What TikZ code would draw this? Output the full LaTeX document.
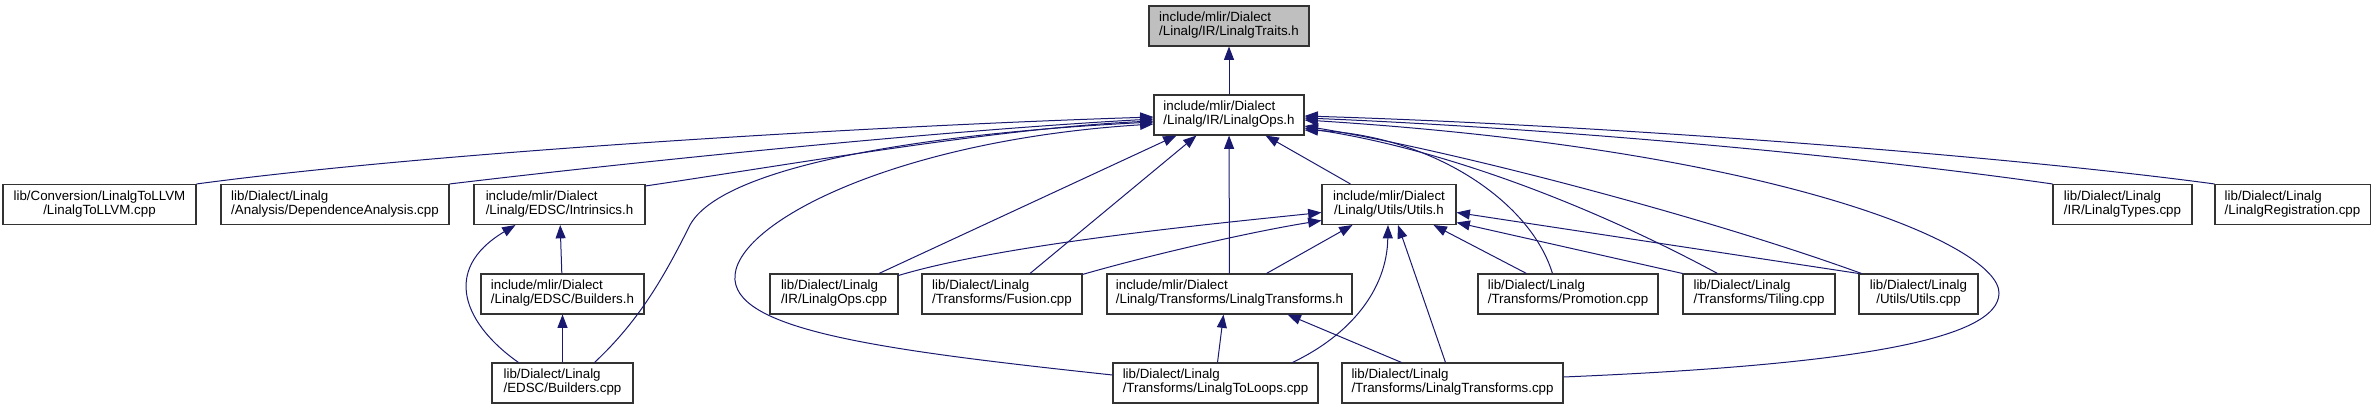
\documentclass[tikz,border=0pt]{standalone}
\usepackage{fontspec}
\setmainfont{Liberation Sans}
\usetikzlibrary{arrows.meta,calc}

\definecolor{edgeblue}{HTML}{191970}
\definecolor{focusgray}{HTML}{BFBFBF}

% two-line file label: first line left, second line centred
\newcommand{\fname}[2]{\begin{tabular}{@{}c@{}}\multicolumn{1}{@{}l@{}}{#1}\\#2\end{tabular}}

\tikzset{
  file/.style={draw=black!80, line width=0.8pt, fill=white, inner sep=0pt,
    minimum height=30pt, font=\fontsize{10}{10.5}\selectfont},
  dep/.style={edgeblue, line width=0.75pt, -{Triangle[length=10pt,width=7.5pt]}}
}

\begin{document}
\begin{tikzpicture}[x=0.75pt,y=-0.75pt]
  \useasboundingbox (0,0) rectangle (2376,409);

  % Draw the headers
  \node[file,fill=focusgray,minimum width=120pt] (traits) at (1229,26) {\fname{include/mlir/Dialect}{/Linalg/IR/LinalgTraits.h}};
  \node[file,minimum width=112.5pt] (ops) at (1229,115) {\fname{include/mlir/Dialect}{/Linalg/IR/LinalgOps.h}};

  % Draw the second row
  \node[file,minimum width=144.75pt] (tollvm) at (99.5,204.5) {\fname{lib/Conversion/LinalgToLLVM}{/LinalgToLLVM.cpp}};
  \node[file,minimum width=171pt] (depana) at (335,204.5) {\fname{lib/Dialect/Linalg}{/Analysis/DependenceAnalysis.cpp}};
  \node[file,minimum width=128.25pt] (intrin) at (559.5,204.5) {\fname{include/mlir/Dialect}{/Linalg/EDSC/Intrinsics.h}};
  \node[file,minimum width=100.5pt] (utilsh) at (1389,204.5) {\fname{include/mlir/Dialect}{/Linalg/Utils/Utils.h}};
  \node[file,minimum width=104.25pt] (types) at (2122.5,204.5) {\fname{lib/Dialect/Linalg}{/IR/LinalgTypes.cpp}};
  \node[file,minimum width=116.25pt] (regis) at (2292.5,204.5) {\fname{lib/Dialect/Linalg}{/LinalgRegistration.cpp}};

  % Draw the third row
  \node[file,minimum width=122.25pt] (buildh) at (562.5,294) {\fname{include/mlir/Dialect}{/Linalg/EDSC/Builders.h}};
  \node[file,minimum width=96pt] (opscpp) at (834,294) {\fname{lib/Dialect/Linalg}{/IR/LinalgOps.cpp}};
  \node[file,minimum width=120pt] (fusion) at (1002,294) {\fname{lib/Dialect/Linalg}{/Transforms/Fusion.cpp}};
  \node[file,minimum width=183.75pt] (transh) at (1229.5,294) {\fname{include/mlir/Dialect}{/Linalg/Transforms/LinalgTransforms.h}};
  \node[file,minimum width=135pt] (promo) at (1568,294) {\fname{lib/Dialect/Linalg}{/Transforms/Promotion.cpp}};
  \node[file,minimum width=114pt] (tiling) at (1759,294) {\fname{lib/Dialect/Linalg}{/Transforms/Tiling.cpp}};
  \node[file,minimum width=89.25pt] (utilscpp) at (1918.5,294) {\fname{lib/Dialect/Linalg}{/Utils/Utils.cpp}};

  % Draw the bottom row
  \node[file,minimum width=105.75pt] (buildcpp) at (562.5,383) {\fname{lib/Dialect/Linalg}{/EDSC/Builders.cpp}};
  \node[file,minimum width=153.75pt] (loops) at (1215.5,383) {\fname{lib/Dialect/Linalg}{/Transforms/LinalgToLoops.cpp}};
  \node[file,minimum width=165.75pt] (transcpp) at (1452.5,383) {\fname{lib/Dialect/Linalg}{/Transforms/LinalgTransforms.cpp}};

  % Draw the edges into LinalgTraits.h and LinalgOps.h
  \draw[dep] (ops) -- (traits);
  \draw[dep] (tollvm.north east) .. controls (450,150) and (900,125) .. ($(ops.west)+(0,2)$);
  \draw[dep] (depana.north east) .. controls (650,160) and (950,130) .. ($(ops.west)+(0,4)$);
  \draw[dep] ($(intrin.north east)+(0,2)$) .. controls (800,163) and (1000,128) .. ($(ops.west)+(0,6)$);
  \draw[dep] ($(buildcpp.north)+(32,0)$) .. controls (640,320) and (665,275) .. (690,225) .. controls (720,170) and (900,135) .. ($(ops.west)+(0,7)$);
  \draw[dep] ($(loops.west)+(0,-8)$) .. controls (880,350) and (730,330) .. (735,275) .. controls (740,220) and (900,140) .. ($(ops.west)+(0,9)$);
  \draw[dep] ($(opscpp.north)+(45,0)$) -- ($(ops.south west)+(23,0)$);
  \draw[dep] ($(fusion.north)+(28,0)$) -- ($(ops.south west)+(43,0)$);
  \draw[dep] (transh) -- (ops);
  \draw[dep] ($(utilsh.north west)+(29,0)$) -- ($(ops.south east)+(-39,0)$);
  \draw[dep] (regis.north west) .. controls (2000,155) and (1600,125) .. ($(ops.east)+(0,1)$);
  \draw[dep] (types.north west) .. controls (1850,155) and (1550,128) .. ($(ops.east)+(0,3)$);
  \draw[dep] ($(transcpp.east)+(0,-6)$) .. controls (1850,365) and (1999,340) .. (1999,293) .. controls (1999,245) and (1780,150) .. ($(ops.east)+(0,5)$);
  \draw[dep] ($(utilscpp.north west)+(3,0)$) .. controls (1700,215) and (1450,150) .. ($(ops.east)+(0,11)$);
  \draw[dep] ($(tiling.north west)+(35,0)$) .. controls (1600,210) and (1450,150) .. ($(ops.east)+(0,13)$);
  \draw[dep] ($(promo.north west)+(75,0)$) .. controls (1530,200) and (1430,135) .. ($(ops.east)+(0,15)$);

  % Draw the edges into Utils.h
  \draw[dep] ($(opscpp.north east)+(0,2)$) .. controls (1000,245) and (1200,225) .. ($(utilsh.west)+(0,8)$);
  \draw[dep] ($(fusion.north east)+(0,1)$) .. controls (1150,255) and (1250,232) .. ($(utilsh.west)+(0,16)$);
  \draw[dep] ($(transh.north)+(37,0)$) -- ($(utilsh.south west)+(31,0)$);
  \draw[dep] ($(loops.north)+(77,0)$) .. controls (1350,335) and (1387,290) .. ($(utilsh.south)+(-1,0)$);
  \draw[dep] ($(transcpp.north)+(-7,0)$) -- ($(utilsh.south)+(9,0)$);
  \draw[dep] ($(promo.north west)+(49,0)$) -- ($(utilsh.south east)+(-23,0)$);
  \draw[dep] (tiling.north west) -- ($(utilsh.east)+(0,18)$);
  \draw[dep] (utilscpp.north west) -- ($(utilsh.east)+(0,8)$);

  % Draw the EDSC edges
  \draw[dep] (buildh) -- (intrin);
  \draw[dep] ($(buildcpp.north)+(-44,0)$) .. controls (465,325) and (440,270) .. ($(intrin.south)+(-44,0)$);
  \draw[dep] (buildcpp) -- (buildh);

  % Draw the edges into LinalgTransforms.h
  \draw[dep] ($(loops.north)+(2,0)$) -- ($(transh.south)+(-6,0)$);
  \draw[dep] ($(transcpp.north)+(-51,0)$) -- ($(transh.south)+(58,0)$);
\end{tikzpicture}
\end{document}
